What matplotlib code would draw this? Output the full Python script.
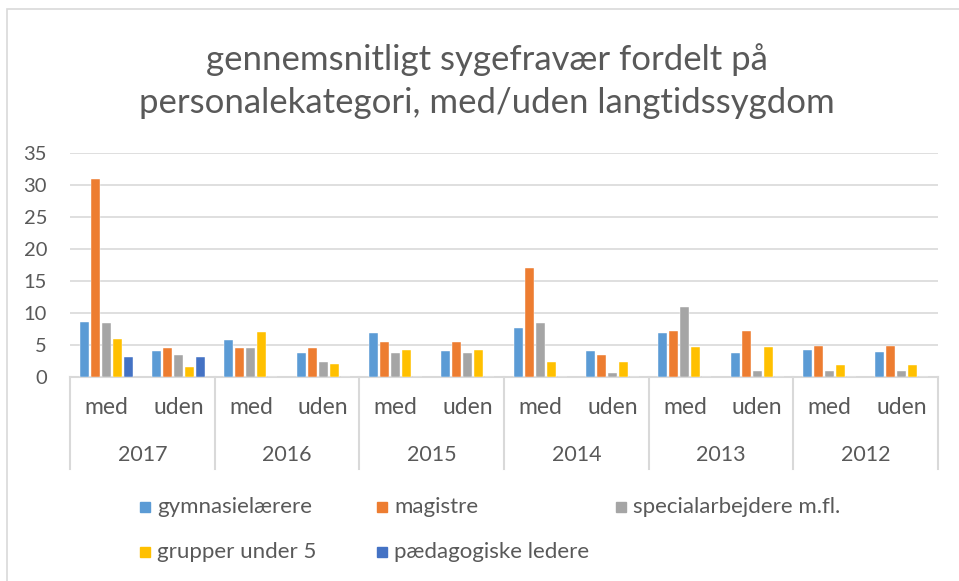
import matplotlib.pyplot as plt
import numpy as np
from matplotlib.patches import Rectangle
from matplotlib.transforms import blended_transform_factory

# ── data ──────────────────────────────────────────────────────────────────────
years = ["2017", "2016", "2015", "2014", "2013", "2012"]
subcats = ["med", "uden"]
series_names = ["gymnasielærere", "magistre", "specialarbejdere m.fl.",
                "grupper under 5", "pædagogiske ledere"]
# order: 2017 med, 2017 uden, 2016 med, ...
gymnasielaerere = [8.6, 4.0, 5.8, 3.7, 6.9, 4.0, 7.7, 4.1, 6.9, 3.75, 4.2, 3.9]
magistre        = [30.9, 4.5, 4.5, 4.5, 5.4, 5.4, 17.1, 3.5, 7.2, 7.2, 4.8, 4.8]
specialarb      = [8.5, 3.5, 4.6, 2.3, 3.7, 3.7, 8.4, 0.7, 10.9, 1.0, 0.9, 0.9]
grupper_u5      = [5.9, 1.5, 7.1, 2.0, 4.2, 4.2, 2.3, 2.3, 4.7, 4.7, 1.9, 1.9]
paed_ledere     = [3.1, 3.1, 0, 0, 0, 0, 0, 0, 0, 0, 0, 0]

colors = ["#5B9BD5", "#ED7D31", "#A5A5A5", "#FFC000", "#4472C4"]
TXT = "#595959"
GRID = "#D9D9D9"

plt.rcParams["font.family"] = ["Lato", "DejaVu Sans"]

W, H = 959, 581
fig = plt.figure(figsize=(W / 100, H / 100), dpi=100)

# chart border (Excel chart area)
fig.patches.append(Rectangle((7 / W, -0.1), 1.2, (H - 9) / H + 0.1,
                             transform=fig.transFigure, fill=False,
                             edgecolor=GRID, linewidth=1.2, clip_on=False))

ax = fig.add_axes([70 / W, (H - 377) / H, (938 - 70) / W, (377 - 153) / H])

all_series = [gymnasielaerere, magistre, specialarb, grupper_u5, paed_ledere]
n_cat = len(gymnasielaerere)
x = np.arange(n_cat)
step = 0.152
bw = 0.125
for k, (vals, clr) in enumerate(zip(all_series, colors)):
    ax.bar(x + (k - 2) * step, vals, width=bw, color=clr, zorder=3,
           edgecolor="white", linewidth=0.3)

ax.set_xlim(-0.5, n_cat - 0.5)
ax.set_ylim(0, 35)
ax.set_yticks(range(0, 36, 5))
ax.yaxis.grid(True, color=GRID, linewidth=1.2, zorder=0)
ax.set_xticks([])
ax.tick_params(axis="y", length=0, pad=16.5, labelsize=14.5, labelcolor=TXT)
for s in ["top", "right", "left"]:
    ax.spines[s].set_visible(False)
ax.spines["bottom"].set_color(GRID)
ax.spines["bottom"].set_linewidth(1.5)

# multi-level category axis
tr = blended_transform_factory(ax.transData, ax.transAxes)
for i in range(n_cat):
    ax.text(x[i], -0.138, subcats[i % 2], transform=tr, ha="center", va="center",
            fontsize=16.5, color=TXT)
for j, yr in enumerate(years):
    ax.text(2 * j + 0.5, -0.348, yr, transform=tr, ha="center", va="center",
            fontsize=15.5, color=TXT)
for b in np.arange(-0.5, n_cat, 2):
    ax.plot([b, b], [0, -0.411], transform=tr, color=GRID, linewidth=1.5,
            clip_on=False)

# title
fig.text(487 / W, (H - 60) / H, "gennemsnitligt sygefravær fordelt på",
         ha="center", va="center", fontsize=25, color=TXT)
fig.text(487 / W, (H - 103) / H, "personalekategori, med/uden langtidssygdom",
         ha="center", va="center", fontsize=25, color=TXT)

# legend
leg_pos = [(140, 507), (377, 507), (616, 507), (140, 552), (377, 552)]
for (px, py), name, clr in zip(leg_pos, series_names, colors):
    fig.patches.append(Rectangle((px / W, (H - py - 5) / H), 10 / W, 10 / H,
                                 transform=fig.transFigure, color=clr))
    fig.text((px + 17) / W, (H - py) / H, name, ha="left", va="center",
             fontsize=16, color=TXT)

fig.savefig("out.png", dpi=100)
